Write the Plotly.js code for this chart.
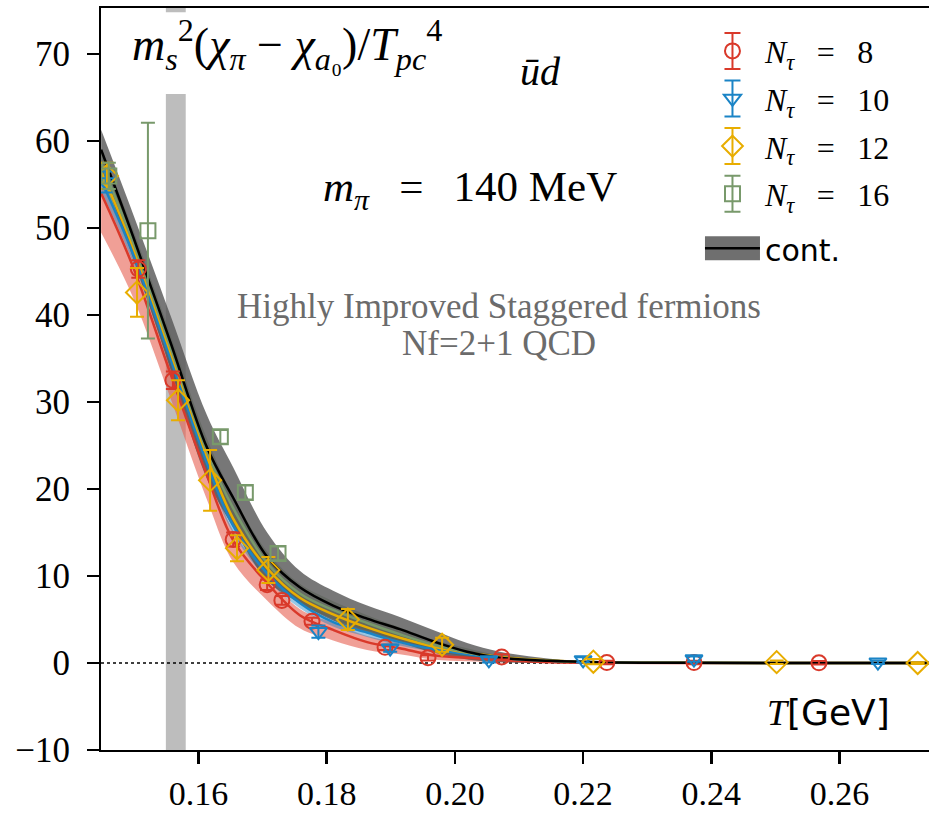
<!DOCTYPE html>
<html>
<head>
<meta charset="utf-8">
<script src="https://cdn.plot.ly/plotly-3.0.1.min.js"></script>
<style>body{margin:0;background:#fff}</style>
</head>
<body>
<div id="plot" style="width:929px;height:813px"></div>
<script>
// ---- fit curves (common temperature grid, GeV) ----
const T_grid = [0.1448, 0.1498, 0.1556, 0.1613, 0.1654, 0.1707, 0.1758, 0.181, 0.1863, 0.1914, 0.1966, 0.2019, 0.207, 0.2148, 0.2226, 0.235, 0.274];
const fit8     = [54.0, 45.5, 33.3, 21.6, 14.1, 9.2, 5.5, 3.8, 2.4, 1.7, 0.9, 0.6, 0.35, 0.1, 0.03, 0.01, 0];
const fit8_lo  = [49.5, 42.0, 30.5, 18.8, 11.6, 7.2, 4.0, 2.6, 1.5, 1.0, 0.4, 0.2, 0.1, 0.0, 0.0, 0.0, 0];
const fit8_hi  = [55.2, 46.8, 34.5, 22.8, 15.2, 10.0, 6.2, 4.6, 3.1, 2.3, 1.4, 1.0, 0.6, 0.2, 0.05, 0.02, 0];
const fit10    = [55.5, 47.0, 35.0, 23.0, 15.8, 10.3, 6.9, 4.7, 3.5, 2.4, 1.6, 1.0, 0.6, 0.25, 0.08, 0.02, 0];
const fit10_lo = [54.3, 46.0, 34.0, 22.0, 14.9, 9.6, 6.3, 4.2, 3.0, 2.0, 1.3, 0.8, 0.45, 0.15, 0.04, 0.0, 0];
const fit10_hi = [56.7, 48.0, 36.0, 24.0, 16.7, 11.0, 7.5, 5.2, 4.0, 2.8, 1.9, 1.2, 0.75, 0.35, 0.12, 0.04, 0];
const fit12    = [56.5, 47.8, 35.8, 23.8, 16.6, 10.9, 7.5, 5.6, 4.1, 2.9, 1.9, 1.2, 0.7, 0.3, 0.1, 0.02, 0];
const fit12_lo = [55.3, 46.8, 34.8, 22.8, 15.7, 10.2, 6.9, 5.1, 3.6, 2.5, 1.6, 0.95, 0.5, 0.2, 0.05, 0.0, 0];
const fit12_hi = [57.7, 48.8, 36.8, 24.8, 17.5, 11.6, 8.1, 6.1, 4.6, 3.3, 2.2, 1.45, 0.9, 0.4, 0.15, 0.04, 0];
const fit16    = [57.5, 48.3, 36.3, 24.3, 17.8, 11.5, 8.0, 6.1, 4.6, 3.3, 2.1, 1.2, 0.6, 0.25, 0.08, 0.02, 0];
const fit16_lo = [55.8, 46.8, 34.8, 22.8, 16.3, 10.2, 6.9, 5.1, 3.7, 2.5, 1.5, 0.7, 0.3, 0.1, 0.02, 0.0, 0];
const fit16_hi = [59.2, 49.8, 37.8, 25.8, 19.3, 12.8, 9.1, 7.1, 5.5, 4.1, 2.7, 1.7, 0.9, 0.4, 0.14, 0.04, 0];
const cont     = [59.0, 49.0, 36.9, 24.8, 19.0, 12.2, 8.7, 6.6, 5.1, 3.9, 2.5, 1.3, 0.6, 0.25, 0.08, 0.02, 0];
const cont_lo  = [56.8, 46.5, 33.8, 21.2, 15.6, 9.5, 6.9, 4.9, 3.5, 2.4, 1.2, 0.4, 0.1, 0.0, 0.0, 0.0, 0];
const cont_hi  = [61.3, 51.6, 40.0, 28.5, 22.5, 15.0, 10.6, 8.3, 6.6, 5.3, 3.8, 2.3, 1.3, 0.5, 0.15, 0.04, 0];

// ---- lattice data points ----
const T8   = [0.1506, 0.1560, 0.1654, 0.1707, 0.1730, 0.1777, 0.1891, 0.1958, 0.2073, 0.2237, 0.2373, 0.2568];
const y8   = [45.3, 32.5, 14.2, 9.0, 7.2, 4.8, 1.8, 0.6, 0.7, 0.05, 0.05, 0.02];
const e8   = [1.0, 1.0, 0.8, 0.6, 0.5, 0.4, 0.3, 0.3, 0.3, 0.2, 0.2, 0.2];
const T10  = [0.1455, 0.1787, 0.1899, 0.2053, 0.2200, 0.2373, 0.2660];
const y10  = [55.3, 3.6, 1.7, 0.35, 0.35, 0.45, 0.1];
const e10  = [1.2, 0.7, 0.4, 0.3, 0.3, 0.3, 0.2];
const T12  = [0.1457, 0.1504, 0.1568, 0.1618, 0.1660, 0.1709, 0.1833, 0.1980, 0.2216, 0.2502, 0.2722];
const y12  = [56.0, 42.6, 30.2, 21.0, 13.2, 10.7, 5.0, 2.1, 0.15, 0.1, 0.0];
const e12  = [1.5, 2.8, 2.3, 3.5, 1.5, 1.5, 1.2, 0.8, 0.3, 0.2, 0.1];
const T16  = [0.1460, 0.1521, 0.1634, 0.1673, 0.1724];
const y16  = [56.0, 49.7, 26.0, 19.6, 12.6];
const e16  = [1.5, 12.4, 0.8, 0.8, 0.8];

// pseudo-critical temperature band
const Tpc_lo = 0.1549, Tpc_hi = 0.1580;

const xTicks = [0.16, 0.18, 0.20, 0.22, 0.24, 0.26];
const yTicks = [-10, 0, 10, 20, 30, 40, 50, 60, 70];

const RED = '#d9392a', BLUE = '#1a84c6', YEL = '#e8ad00', GRN = '#78996b';
const SERIF = 'Liberation Serif';

function band(lo, hi, color) {
  return {x: T_grid.concat(T_grid.slice().reverse()),
          y: hi.concat(lo.slice().reverse()),
          mode: 'lines', fill: 'toself', fillcolor: color,
          line: {width: 0, shape: 'spline'}, showlegend: false, hoverinfo: 'skip'};
}
function line(y, color, w) {
  return {x: T_grid, y: y, mode: 'lines', line: {color: color, width: w, shape: 'spline'},
          showlegend: false, hoverinfo: 'skip'};
}
const EQ = '\u2002\u2009=\u2002\u2009';
function pts(x, y, e, color, symbol, size, n) {
  return {x: x, y: y, mode: 'markers', legendgroup: 'g' + n,
          name: '<i>N</i><sub><i>τ</i></sub>' + EQ + n,
          marker: {symbol: symbol, size: size, color: color, line: {color: color, width: 2}},
          error_y: {type: 'data', array: e, visible: true, color: color, thickness: 2, width: 7}};
}

const traces = [
  band(fit8_lo, fit8_hi, 'rgba(230,95,80,0.6)'),
  band(fit10_lo, fit10_hi, 'rgba(26,132,198,0.45)'),
  band(fit12_lo, fit12_hi, 'rgba(232,173,0,0.45)'),
  band(fit16_lo, fit16_hi, 'rgba(110,140,95,0.55)'),
  band(cont_lo, cont_hi, 'rgba(85,85,85,0.8)'),
  line(fit8, RED, 2.5), line(fit10, BLUE, 2.5), line(fit12, YEL, 2.5), line(fit16, GRN, 2.5),
  line(cont, '#000', 2.5),
  pts(T8, y8, e8, RED, 'circle-open', 15, '8'),
  pts(T10, y10, e10, BLUE, 'triangle-down-open', 15, '10'),
  pts(T12, y12, e12, YEL, 'diamond-open', 17, '12'),
  pts(T16, y16, e16, GRN, 'square-open', 15, '16'),
  {x: [null], y: [null], mode: 'lines', line: {color: '#777', width: 10}, legendgroup: 'gc',
   name: '<span style="font-family:DejaVu Sans;font-size:30px">cont.</span>'}
];
const legendColors = [RED, BLUE, YEL, GRN];

const layout = {
  width: 929, height: 813,
  margin: {l: 101, r: 0, t: 8, b: 63},
  paper_bgcolor: '#fff', plot_bgcolor: '#fff',
  showlegend: true,
  font: {family: SERIF, color: '#000', size: 32},
  xaxis: {range: [0.14478, 0.27397], tickvals: xTicks, tickformat: '.2f',
          showline: true, linewidth: 2, linecolor: '#000', mirror: true,
          ticks: 'outside', ticklen: 12, tickwidth: 2.5, tickcolor: '#000', ticklabelstandoff: 0,
          showgrid: false, zeroline: false, tickfont: {family: SERIF, size: 34, color: '#000'}},
  yaxis: {range: [-10, 75.3], tickvals: yTicks,
          showline: true, linewidth: 2, linecolor: '#000', mirror: false,
          ticks: 'outside', ticklen: 12, tickwidth: 2.5, tickcolor: '#000', ticklabelstandoff: 10,
          showgrid: false, zeroline: false, tickfont: {family: SERIF, size: 35, color: '#000'}},
  legend: {x: 0.7234, y: 0.979, xanchor: 'left', yanchor: 'top', bgcolor: 'rgba(0,0,0,0)',
           font: {family: SERIF, size: 32, color: '#000'}, itemwidth: 55, tracegroupgap: 3},
  shapes: [
    {type: 'rect', xref: 'x', yref: 'paper', x0: Tpc_lo, x1: Tpc_hi, y0: 0, y1: 1,
     fillcolor: '#bdbdbd', line: {width: 0}, layer: 'below'},
    {type: 'rect', xref: 'x', yref: 'y', x0: 0.1530, x1: 0.1600, y0: 65.4, y1: 74.8,
     fillcolor: '#fff', line: {width: 0}, layer: 'below'},
    {type: 'line', xref: 'paper', yref: 'y', x0: 0, x1: 1, y0: 0, y1: 0,
     line: {color: '#000', width: 1.5, dash: 'dot'}, layer: 'below'}
  ],
  annotations: [
    {xref: 'paper', yref: 'paper', x: 0.225, y: 0.951, xanchor: 'center', yanchor: 'middle', showarrow: false,
     text: '<i>m</i><sub><i>s</i></sub><sup>2</sup>(<i>χ</i><sub><i>π</i></sub> − <i>χ</i><sub><i>a</i>₀</sub>)/<i>T</i><sub><i>pc</i></sub><sup>4</sup>',
     font: {family: SERIF, size: 46}},
    {xref: 'paper', yref: 'paper', x: 0.531, y: 0.914, xanchor: 'center', yanchor: 'middle', showarrow: false,
     text: '<i>ūd</i>', font: {family: SERIF, size: 40}},
    {xref: 'paper', yref: 'paper', x: 0.4457, y: 0.7547, xanchor: 'center', yanchor: 'middle', showarrow: false,
     text: '<i>m</i><sub><i>π</i></sub>' + EQ + '140 MeV', font: {family: SERIF, size: 43}},
    {xref: 'paper', yref: 'paper', x: 0.4807, y: 0.598, xanchor: 'center', yanchor: 'middle', showarrow: false,
     text: 'Highly Improved Staggered fermions', font: {family: SERIF, size: 35, color: '#6b6b6b'}},
    {xref: 'paper', yref: 'paper', x: 0.4807, y: 0.5485, xanchor: 'center', yanchor: 'middle', showarrow: false,
     text: 'Nf=2+1 QCD', font: {family: SERIF, size: 35, color: '#6b6b6b'}},
    {xref: 'paper', yref: 'paper', x: 0.955, y: 0.0512, xanchor: 'right', yanchor: 'middle', showarrow: false,
     text: '<i>T</i><span style="font-family:DejaVu Sans">[GeV]</span>', font: {family: SERIF, size: 36}}
  ]
};

Plotly.newPlot('plot', traces, layout, {displayModeBar: false, staticPlot: true}).then(function (gd) {
  const NS = 'http://www.w3.org/2000/svg';
  const items = gd.querySelectorAll('.legend .traces');
  items.forEach(function (it, i) {
    if (i < legendColors.length) {
      // error-bar glyph behind each legend marker
      const mk = it.querySelector('path.scatterpts');
      if (!mk) return;
      const eb = document.createElementNS(NS, 'path');
      eb.setAttribute('d', 'M0,-18V18M-8,-18H8M-8,18H8');
      const tr = mk.getAttribute('transform');
      if (tr) eb.setAttribute('transform', tr);
      eb.style.stroke = legendColors[i];
      eb.style.strokeWidth = '2px';
      eb.style.fill = 'none';
      mk.parentNode.insertBefore(eb, mk);
    } else {
      // continuum legend symbol: thick grey band with the black central line,
      // set slightly apart from the lattice entries
      const m = /translate\(\s*([-\d.]+)[ ,]+([-\d.]+)\s*\)/.exec(it.getAttribute('transform') || '');
      if (m) it.setAttribute('transform', 'translate(' + m[1] + ',' + (parseFloat(m[2]) + 7) + ')');
      const p = it.querySelector('path.js-line');
      if (!p) return;
      p.style.strokeWidth = '24px';
      p.style.stroke = '#6f6f6f';
      const c = p.cloneNode();
      c.style.stroke = '#000';
      c.style.strokeWidth = '2.5px';
      p.parentNode.appendChild(c);
    }
  });
});
</script>
</body>
</html>
